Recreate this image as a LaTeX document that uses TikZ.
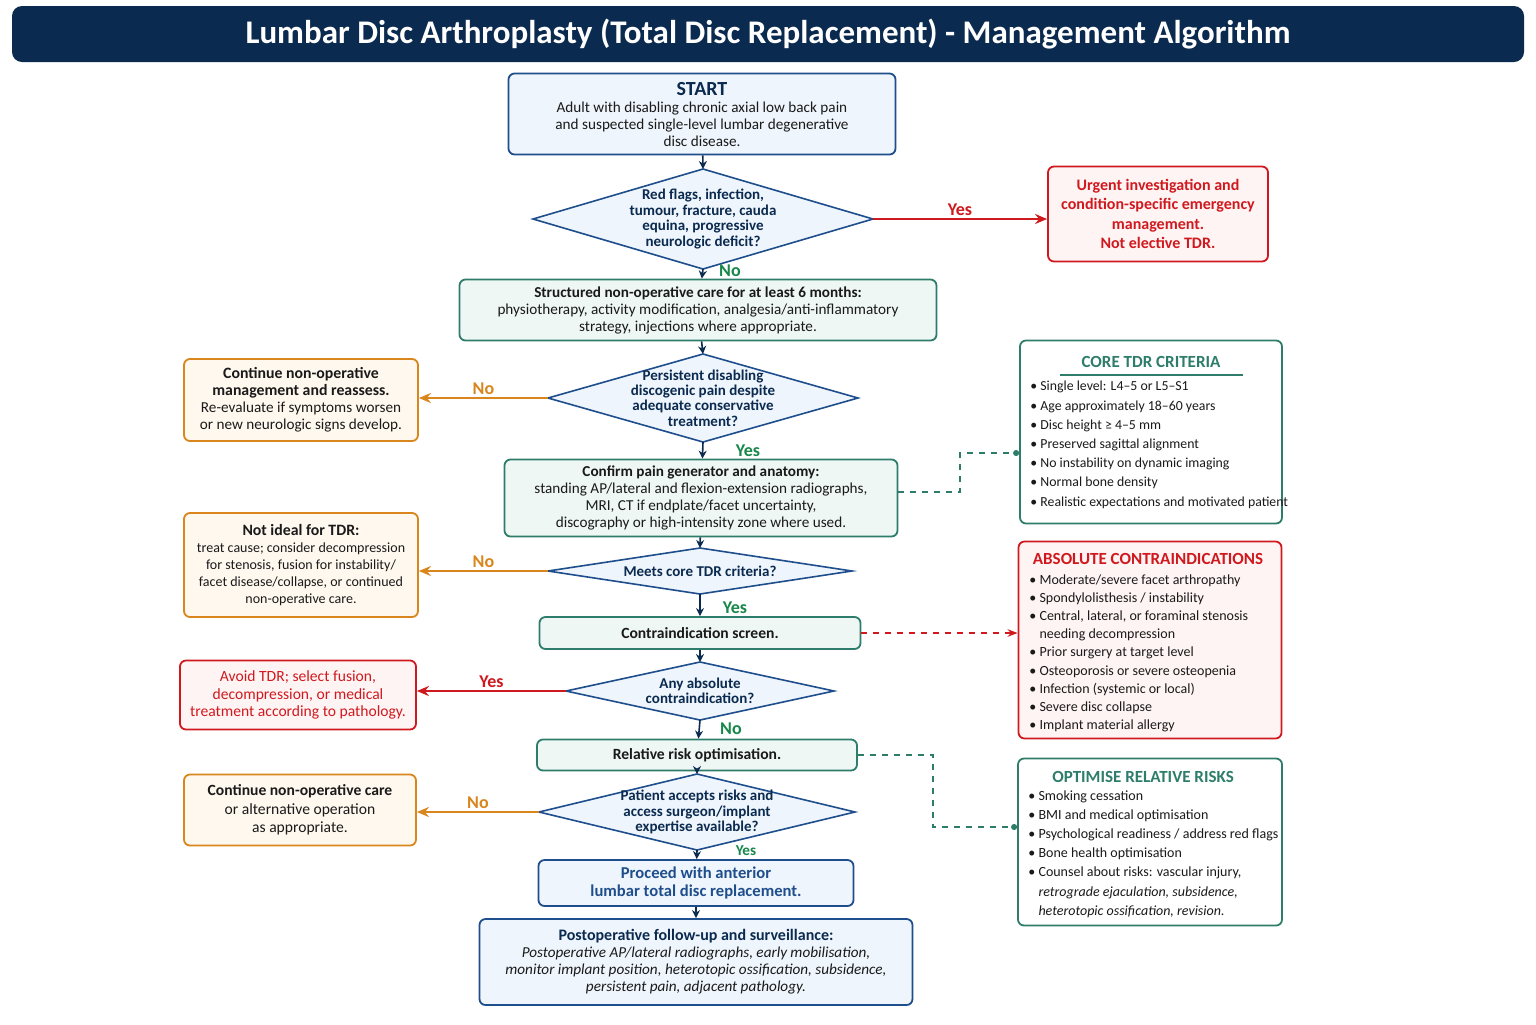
\documentclass[tikz,border=0pt]{standalone}
\usepackage{fontspec}
\setmainfont{Carlito}
\usetikzlibrary{arrows.meta}
\definecolor{navy}{HTML}{0B2A4F}
\definecolor{bblue}{HTML}{1F4E8C}
\definecolor{bfill}{HTML}{EEF5FC}
\definecolor{teal}{HTML}{2E7D6B}
\definecolor{tfill}{HTML}{EEF7F4}
\definecolor{red}{HTML}{D0191E}
\definecolor{rfill}{HTML}{FFF4F4}
\definecolor{orng}{HTML}{D9861C}
\definecolor{ofill}{HTML}{FFF8EE}
\definecolor{grn}{HTML}{17874A}
\definecolor{txt}{HTML}{1A1A1A}
\tikzset{
 box/.style={draw,rounded corners=3pt,line width=0.9pt,align=center,inner sep=2pt,font=\fontsize{7.6}{8.5}\selectfont,text=txt},
 bbox/.style={box,draw=bblue,fill=bfill},
 tbox/.style={box,draw=teal,fill=tfill},
 rbox/.style={box,draw=red,fill=rfill,text=red},
 obox/.style={box,draw=orng,fill=ofill},
 dia/.style={draw=bblue,fill=bfill,line width=0.8pt},
 dtext/.style={align=center,font=\bfseries\fontsize{7.5}{7.7}\selectfont,text=navy,inner sep=0pt},
 arr/.style={-{Stealth[length=4pt,width=4pt]},draw=navy,line width=0.8pt},
 sarr/.style={-{Stealth[length=6pt,width=5pt]},line width=1.2pt},
 lab/.style={font=\bfseries\fontsize{9}{9}\selectfont,inner sep=0pt},
 list/.style={align=left,font=\fontsize{7}{9.6}\selectfont,text=txt,inner sep=0pt,anchor=north west},
 ptitle/.style={font=\bfseries\fontsize{8.5}{9}\selectfont,inner sep=0pt},
}
\newcommand\dia[6]{%
 \draw[dia] (#2-#4/2,#3) -- (#2,#3-#5/2) -- (#2+#4/2,#3) -- (#2,#3+#5/2) -- cycle;
 \node[dtext] (#1) at (#2,#3) {#6};
 \coordinate (#1-l) at (#2-#4/2,#3); \coordinate (#1-r) at (#2+#4/2,#3);
 \coordinate (#1-t) at (#2,#3-#5/2); \coordinate (#1-b) at (#2,#3+#5/2);}
\newcommand\bl{\textbullet\ }
\newcommand\ind{\phantom{\textbullet\ }}
\newcommand\hb{\bfseries\fontsize{7.9}{8.5}\selectfont}
\begin{document}
\begin{tikzpicture}[x=0.5pt,y=-0.5pt]
\useasboundingbox (0,0) rectangle (1536,1024);
\fill[white] (0,0) rectangle (1536,1024);
\node[fill=navy,rounded corners=5pt,minimum width=756pt,minimum height=28pt,text=white,font=\bfseries\fontsize{16.5}{17}\selectfont] (title) at (768,34) {Lumbar Disc Arthroplasty (Total Disc Replacement) - Management Algorithm};

\node[bbox,minimum width=193.5pt,minimum height=40.5pt] (start) at (702,114)
 {{\bfseries\fontsize{10}{10}\selectfont\color{navy}START}\\Adult with disabling chronic axial low back pain\\and suspected single-level lumbar degenerative\\disc disease.};
\dia{d1}{703}{219}{340}{100}{Red flags, infection,\\tumour, fracture, cauda\\equina, progressive\\neurologic deficit?}
\node[rbox,minimum width=110pt,minimum height=47.5pt,font=\bfseries\fontsize{8}{9.6}\selectfont] (urg) at (1158,214)
 {Urgent investigation and\\condition-specific emergency\\management.\\Not elective TDR.};
\node[tbox,minimum width=238.5pt,minimum height=30.5pt] (nonop) at (698,310)
 {{\bfseries Structured non-operative care for at least 6 months:}\\physiotherapy, activity modification, analgesia/anti-inflammatory\\strategy, injections where appropriate.};
\dia{d2}{703}{398}{310}{88}{Persistent disabling\\discogenic pain despite\\adequate conservative\\treatment?}
\node[obox,minimum width=117pt,minimum height=41pt] (cont1) at (301,400)
 {{\hb Continue non-operative}\\{\hb management and reassess.}\\Re-evaluate if symptoms worsen\\or new neurologic signs develop.};
\node[tbox,minimum width=196.5pt,minimum height=38.5pt] (conf) at (701,498)
 {{\bfseries Confirm pain generator and anatomy:}\\standing AP/lateral and flexion-extension radiographs,\\MRI, CT if endplate/facet uncertainty,\\discography or high-intensity zone where used.};
\dia{d3}{700}{571}{304}{46}{Meets core TDR criteria?}
\node[obox,minimum width=117pt,minimum height=52pt,font=\fontsize{7}{8.6}\selectfont] (notideal) at (301,565)
 {{\hb Not ideal for TDR:}\\treat cause; consider decompression\\for stenosis, fusion for instability/\\facet disease/collapse, or continued\\non-operative care.};
\node[tbox,minimum width=160.5pt,minimum height=16pt,font=\bfseries\fontsize{7.8}{8}\selectfont] (screen) at (700,633) {Contraindication screen.};
\dia{d4}{700}{691}{268}{58}{Any absolute\\contraindication?}
\node[rbox,minimum width=118pt,minimum height=34.5pt,font=\fontsize{7.8}{8.8}\selectfont] (avoid) at (298,695)
 {Avoid TDR; select fusion,\\decompression, or medical\\treatment according to pathology.};
\node[tbox,minimum width=160pt,minimum height=15.5pt,font=\bfseries\fontsize{7.8}{8}\selectfont] (rel) at (697,755) {Relative risk optimisation.};
\dia{d5}{697}{812}{316}{76}{Patient accepts risks and\\access surgeon/implant\\expertise available?}
\node[obox,minimum width=116pt,minimum height=35.5pt,font=\fontsize{7.8}{9.2}\selectfont] (cont2) at (300,810)
 {{\bfseries Continue non-operative care}\\or alternative operation\\as appropriate.};
\node[bbox,minimum width=157.5pt,minimum height=23pt,font=\bfseries\fontsize{8.3}{9.2}\selectfont,text=bblue] (proc) at (696,883)
 {Proceed with anterior\\lumbar total disc replacement.};
\node[bbox,minimum width=216.5pt,minimum height=43pt] (post) at (696,962)
 {{\bfseries\fontsize{8}{9}\selectfont\color{navy}Postoperative follow-up and surveillance:}\\{\itshape Postoperative AP/lateral radiographs, early mobilisation,}\\{\itshape monitor implant position, heterotopic ossification, subsidence,}\\{\itshape persistent pain, adjacent pathology.}};

% side panels
\node[draw=teal,fill=white,rounded corners=3pt,line width=0.9pt,minimum width=131pt,minimum height=91.5pt] (core) at (1151,432) {};
\node[ptitle,text=teal] (coret) at (1151,362) {CORE TDR CRITERIA};
\draw[teal,line width=0.6pt] (1060,375) -- (1243,375);
\node[list,font=\fontsize{6.9}{9.6}\selectfont] (corel) at (1030,381) {\bl Single level: L4–5 or L5–S1\\\bl Age approximately 18–60 years\\\bl Disc height ≥ 4–5 mm\\\bl Preserved sagittal alignment\\\bl No instability on dynamic imaging\\\bl Normal bone density\\\bl Realistic expectations and motivated patient};
\node[draw=red,fill=rfill,rounded corners=3pt,line width=0.9pt,minimum width=131.5pt,minimum height=98.5pt] (abs) at (1150,640) {};
\node[ptitle,text=red] (abst) at (1148,559) {ABSOLUTE CONTRAINDICATIONS};
\node[list,font=\fontsize{7}{9.1}\selectfont] (absl) at (1029,574) {\bl Moderate/severe facet arthropathy\\\bl Spondylolisthesis / instability\\\bl Central, lateral, or foraminal stenosis\\\ind needing decompression\\\bl Prior surgery at target level\\\bl Osteoporosis or severe osteopenia\\\bl Infection (systemic or local)\\\bl Severe disc collapse\\\bl Implant material allergy};
\node[draw=teal,fill=white,rounded corners=3pt,line width=0.9pt,minimum width=132pt,minimum height=83.5pt] (opt) at (1150,842) {};
\node[ptitle,text=teal] (optt) at (1143,777) {OPTIMISE RELATIVE RISKS};
\node[list] (optl) at (1028,790) {\bl Smoking cessation\\\bl BMI and medical optimisation\\\bl Psychological readiness / address red flags\\\bl Bone health optimisation\\\bl Counsel about risks: vascular injury,\\\ind{\itshape retrograde ejaculation, subsidence,}\\\ind{\itshape heterotopic ossification, revision.}};

% main flow
\draw[arr] (start) -- (d1-t);
\draw[arr] (d1-b) -- (nonop);
\draw[arr] (nonop) -- (d2-t);
\draw[arr] (d2-b) -- (conf);
\draw[arr] (conf) -- (d3-t);
\draw[arr] (d3-b) -- (screen);
\draw[arr] (screen) -- (d4-t);
\draw[arr] (d4-b) -- (rel);
\draw[arr] (rel) -- (d5-t);
\draw[arr] (d5-b) -- (proc);
\draw[arr] (proc) -- (post);
\node[lab,text=grn] at (730,271) {No};
\node[lab,text=grn] at (748,451) {Yes};
\node[lab,text=grn] at (735,608) {Yes};
\node[lab,text=grn] at (731,729) {No};
\node[lab,text=grn,font=\bfseries\fontsize{7.6}{8}\selectfont] at (746,851) {Yes};

% side arrows
\draw[sarr,red] (d1-r) -- (urg.west |- d1-r) node[lab,midway,above=1pt,text=red] {Yes};
\draw[sarr,orng] (d2-l) -- (cont1.east |- d2-l) node[lab,midway,above=1pt,text=orng] {No};
\draw[sarr,orng] (d3-l) -- (notideal.east |- d3-l) node[lab,midway,above=1pt,text=orng] {No};
\draw[sarr,red] (d4-l) -- (avoid.east |- d4-l) node[lab,midway,above=1pt,text=red] {Yes};
\draw[sarr,orng] (d5-l) -- (cont2.east |- d5-l) node[lab,midway,above=1pt,text=orng] {No};

% dashed links
\coordinate (c1a) at (960,492); \coordinate (c1b) at (960,453);
\coordinate (c2a) at (933,755); \coordinate (c2b) at (933,827);
\draw[teal,dashed,line width=0.9pt,-{Circle[length=3pt]}] (conf.east |- c1a) -- (c1a) -- (c1b) -- (core.west |- c1b);
\draw[red,dashed,line width=0.9pt,-{Stealth[length=5pt]}] (screen.east) -- (abs.west |- screen.east);
\draw[teal,dashed,line width=0.9pt,-{Circle[length=3pt]}] (rel.east) -- (c2a) -- (c2b) -- (opt.west |- c2b);
\end{tikzpicture}
\end{document}
